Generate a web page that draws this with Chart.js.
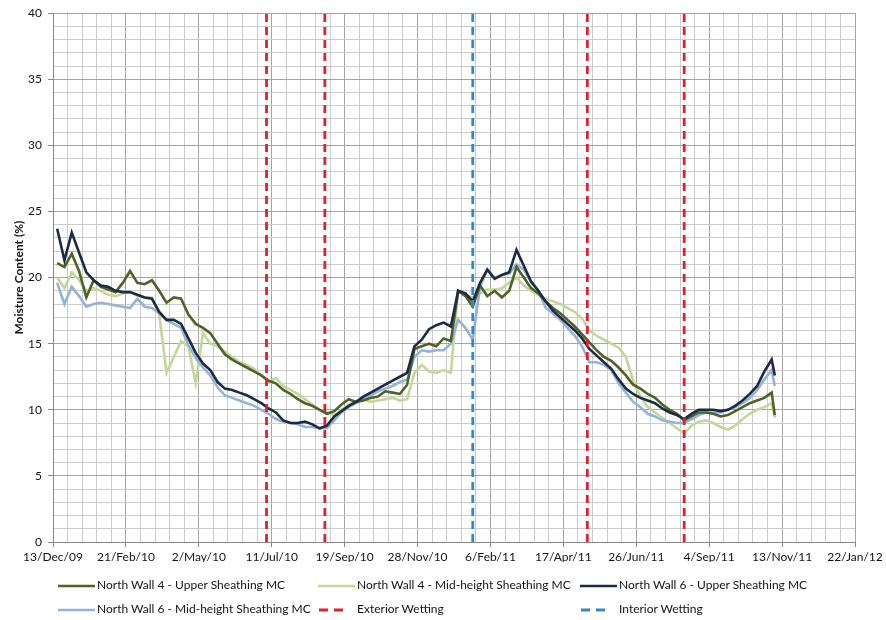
<!DOCTYPE html>
<html><head><meta charset="utf-8">
<script src="https://cdn.jsdelivr.net/npm/chart.js@4.4.0/dist/chart.umd.min.js"></script>
<style>
html,body{margin:0;padding:0;background:#fff;}
#wrap{position:relative;width:886px;height:620px;overflow:hidden;}
#c{position:absolute;left:0;top:0;}
.leg{position:absolute;font:12px Lato, "Liberation Sans", sans-serif;color:#141414;white-space:nowrap;line-height:14px;}
.sw{position:absolute;}
</style>
</head><body>
<div id="wrap">
<canvas id="c" width="886" height="620"></canvas>
<div id="legend"></div>
</div>
<script>
// ---- data ----
const dates = ['2009-12-17','2009-12-24','2009-12-31','2010-01-07','2010-01-14','2010-01-21','2010-01-28','2010-02-04','2010-02-11','2010-02-18',
'2010-02-25','2010-03-04','2010-03-11','2010-03-18','2010-03-25','2010-04-01','2010-04-08','2010-04-15','2010-04-22','2010-04-29',
'2010-05-06','2010-05-13','2010-05-20','2010-05-27','2010-06-03','2010-06-10','2010-06-17','2010-06-24','2010-07-01','2010-07-08',
'2010-07-15','2010-07-22','2010-07-29','2010-08-05','2010-08-12','2010-08-19','2010-08-26','2010-09-02','2010-09-09','2010-09-16',
'2010-09-23','2010-09-30','2010-10-07','2010-10-14','2010-10-21','2010-10-28','2010-11-04','2010-11-11','2010-11-18','2010-11-25',
'2010-12-02','2010-12-09','2010-12-16','2010-12-23','2010-12-30','2011-01-06','2011-01-13','2011-01-20','2011-01-27','2011-02-03',
'2011-02-10','2011-02-17','2011-02-24','2011-03-03','2011-03-10','2011-03-17','2011-03-24','2011-03-31','2011-04-07','2011-04-14',
'2011-04-21','2011-04-28','2011-05-05','2011-05-12','2011-05-19','2011-05-26','2011-06-02','2011-06-09','2011-06-16','2011-06-23',
'2011-06-30','2011-07-07','2011-07-14','2011-07-21','2011-07-28','2011-08-04','2011-08-11','2011-08-18','2011-08-25','2011-09-01',
'2011-09-08','2011-09-15','2011-09-22','2011-09-29','2011-10-06','2011-10-13','2011-10-20','2011-10-27','2011-11-03','2011-11-06'];

const nw4Upper = [21.1,20.8,21.8,20.5,18.5,19.8,19.3,19.1,18.9,19.6,
20.5,19.6,19.5,19.8,19.0,18.1,18.5,18.4,17.2,16.5,
16.2,15.8,15.0,14.2,13.8,13.5,13.2,12.9,12.6,12.2,
12.0,11.5,11.2,10.8,10.5,10.3,10.0,9.7,9.9,10.4,
10.8,10.6,10.7,10.9,11.0,11.4,11.3,11.2,11.9,14.6,
14.8,15.0,14.8,15.4,15.2,19.0,18.6,17.8,19.4,18.6,
19.0,18.5,19.0,20.8,20.0,19.2,18.8,18.2,17.7,17.3,
16.8,16.3,15.7,15.1,14.5,14.0,13.7,13.2,12.6,11.9,
11.6,11.2,10.9,10.4,10.0,9.7,9.2,9.5,9.8,9.8,
9.7,9.5,9.6,9.9,10.2,10.5,10.7,10.9,11.3,9.6];

const nw4Mid = [20.0,19.2,20.4,19.8,19.0,19.2,19.0,18.7,18.6,18.8,
18.9,18.6,18.5,18.5,17.2,12.8,14.0,15.2,14.8,12.0,
15.8,15.0,14.8,14.4,14.0,13.6,13.4,13.1,12.6,12.1,
12.4,11.8,11.5,11.2,10.8,10.4,10.0,9.8,9.6,10.0,
10.4,10.6,10.8,10.6,10.7,10.8,10.9,10.7,10.8,12.8,
13.4,12.9,12.8,13.0,12.8,19.0,18.6,18.5,18.8,19.1,
19.1,19.2,19.6,20.0,19.4,19.0,18.7,18.4,18.2,18.0,
17.7,17.4,16.9,16.0,15.6,15.3,15.0,14.7,14.0,12.2,
11.0,10.2,9.8,9.4,9.0,8.6,8.2,8.8,9.1,9.2,
9.0,8.7,8.5,8.8,9.3,9.7,10.0,10.2,10.5,9.4];

const nw6Upper = [23.7,21.3,23.4,21.9,20.4,19.8,19.4,19.3,19.0,18.9,
18.9,18.7,18.5,18.4,17.4,16.8,16.8,16.5,15.4,14.3,
13.5,13.0,12.1,11.6,11.5,11.3,11.1,10.8,10.5,10.1,
9.8,9.2,9.0,9.0,9.1,8.9,8.6,8.8,9.5,9.9,
10.3,10.6,11.0,11.3,11.6,11.9,12.2,12.5,12.8,14.8,
15.3,16.1,16.4,16.6,16.3,19.0,18.8,18.2,19.6,20.6,
19.9,20.2,20.4,22.1,20.9,19.7,19.0,18.2,17.5,17.0,
16.5,16.0,15.4,14.6,14.1,13.6,13.1,12.3,11.6,11.2,
10.9,10.7,10.5,10.1,9.8,9.6,9.3,9.7,10.0,10.0,
10.0,9.9,10.0,10.3,10.7,11.2,11.8,12.9,13.8,12.6];

const nw6Mid = [19.6,18.0,19.3,18.6,17.8,18.0,18.1,18.0,17.9,17.8,
17.7,18.4,17.8,17.7,17.3,16.8,16.5,16.2,14.9,13.9,
13.2,12.6,11.7,11.1,10.9,10.7,10.5,10.3,10.0,9.7,
9.3,9.1,9.0,8.9,8.7,8.7,8.6,8.6,9.2,9.8,
10.2,10.5,10.8,11.1,11.4,11.6,11.8,12.1,12.3,14.0,
14.5,14.4,14.5,14.5,15.0,16.8,16.2,15.3,19.3,20.6,
20.0,20.2,20.3,21.0,20.6,19.7,19.0,17.7,17.3,16.8,
16.2,15.6,14.8,13.6,13.6,13.4,13.0,12.0,11.3,10.6,
10.2,9.7,9.5,9.2,9.1,9.0,9.0,9.3,9.6,9.8,
9.8,9.8,10.0,10.2,10.5,10.9,11.5,12.3,13.0,11.8];

const exteriorWettingDates = ['2010-07-06','2010-08-31','2011-05-10','2011-08-11'];
const interiorWettingDates = ['2011-01-20'];

const xTickLabels = ['13/Dec/09','21/Feb/10','2/May/10','11/Jul/10','19/Sep/10','28/Nov/10','6/Feb/11','17/Apr/11','26/Jun/11','4/Sep/11','13/Nov/11','22/Jan/12'];
const yTickLabels = ['0','5','10','15','20','25','30','35','40'];

const seriesNames = ['North Wall 4 - Upper Sheathing MC','North Wall 4 - Mid-height Sheathing MC','North Wall 6 - Upper Sheathing MC',
'North Wall 6 - Mid-height Sheathing MC','Exterior Wetting','Interior Wetting'];

// ---- helpers ----
const START = Date.UTC(2009,11,13);
function dayOf(s){const p=s.split('-').map(Number);return (Date.UTC(p[0],p[1]-1,p[2])-START)/86400000;}
function pts(vals){return dates.map((d,i)=>({x:dayOf(d),y:vals[i]}));}
function vlines(ds){const out=[];ds.forEach(d=>{const x=dayOf(d);out.push({x:x,y:0},{x:x,y:40},{x:x,y:null});});return out;}

const colors = {nw4U:'#4f6228', nw4M:'#c4d79b', nw6U:'#1c2a44', nw6M:'#95b3d7', ext:'#e2202c', int:'#2e8bc6'};
const font = {family:'Lato, "Liberation Sans", sans-serif', size:12};

const datasets = [
 {label:seriesNames[4], data:vlines(exteriorWettingDates), borderColor:colors.ext, borderWidth:2.8, borderDash:[8,5], spanGaps:false, order:0},
 {label:seriesNames[5], data:vlines(interiorWettingDates), borderColor:colors.int, borderWidth:2.8, borderDash:[8,5], spanGaps:false, order:1},
 {label:seriesNames[2], data:pts(nw6Upper), borderColor:colors.nw6U, borderWidth:2.6, order:2},
 {label:seriesNames[0], data:pts(nw4Upper), borderColor:colors.nw4U, borderWidth:2.6, order:3},
 {label:seriesNames[3], data:pts(nw6Mid), borderColor:colors.nw6M, borderWidth:2.6, order:4},
 {label:seriesNames[1], data:pts(nw4Mid), borderColor:colors.nw4M, borderWidth:2.6, order:5},
];

new Chart(document.getElementById('c').getContext('2d'), {
 type:'line',
 data:{datasets},
 options:{
  responsive:false, animation:false, devicePixelRatio:1,
  layout:{padding:{left:0,right:31,top:12,bottom:58}},
  plugins:{legend:{display:false}, tooltip:{enabled:false}},
  elements:{point:{radius:0}, line:{tension:0, fill:false}},
  scales:{
   x:{type:'linear', min:0, max:770,
      ticks:{stepSize:14, maxTicksLimit:100, autoSkip:false, maxRotation:0, padding:3, color:'#141414', font,
        callback:(v)=> (v%70===0 ? xTickLabels[v/70] : '')},
      grid:{color:(c)=> (c.tick && c.tick.value%70===0 ? '#a4a4a4' : '#cccccc'), lineWidth:1,
        tickColor:(c)=> (c.tick && c.tick.value%70===0 ? '#888' : 'rgba(0,0,0,0)'), tickLength:5},
      border:{color:'#888'},
      afterFit:(s)=>{s.height=20;}
   },
   y:{min:0, max:40,
      ticks:{stepSize:1, maxTicksLimit:100, autoSkip:false, padding:6, color:'#141414', font,
        callback:(v)=> (v%5===0 ? yTickLabels[v/5] : '')},
      grid:{color:(c)=> (c.tick && c.tick.value%5===0 ? '#a4a4a4' : '#cccccc'), lineWidth:1,
        tickColor:(c)=> (c.tick && c.tick.value%5===0 ? '#888' : 'rgba(0,0,0,0)'), tickLength:5},
      border:{color:'#888'},
      title:{display:true, text:'Moisture Content (%)', color:'#141414', font:{family:font.family, size:12, weight:'bold'}, padding:{top:12,bottom:0}},
      afterFit:(s)=>{s.width=53;}
   }
  }
 }
});

// ---- HTML legend ----
const legendItems = [
 {name:seriesNames[0], color:colors.nw4U, dash:false, col:0, row:0},
 {name:seriesNames[1], color:colors.nw4M, dash:false, col:1, row:0},
 {name:seriesNames[2], color:colors.nw6U, dash:false, col:2, row:0},
 {name:seriesNames[3], color:colors.nw6M, dash:false, col:0, row:1},
 {name:seriesNames[4], color:colors.ext, dash:true, col:1, row:1},
 {name:seriesNames[5], color:colors.int, dash:true, col:2, row:1},
];
const colX = [58, 318, 580];
const rowY = [586, 610];
const lg = document.getElementById('legend');
legendItems.forEach(it=>{
  const sx = colX[it.col], cy = rowY[it.row];
  const svg = document.createElementNS('http://www.w3.org/2000/svg','svg');
  svg.setAttribute('width','38'); svg.setAttribute('height','6');
  svg.setAttribute('class','sw');
  svg.style.left = sx+'px'; svg.style.top = (cy-3)+'px';
  const ln = document.createElementNS('http://www.w3.org/2000/svg','line');
  ln.setAttribute('x1', it.dash? '1':'0'); ln.setAttribute('x2', it.dash? '26':'37');
  ln.setAttribute('y1','3'); ln.setAttribute('y2','3');
  ln.setAttribute('stroke', it.color); ln.setAttribute('stroke-width', it.dash? '2.8':'2.4');
  if(it.dash) ln.setAttribute('stroke-dasharray','9,6');
  svg.appendChild(ln);
  lg.appendChild(svg);
  const t = document.createElement('div');
  t.className='leg'; t.textContent = it.name;
  t.style.left = (sx+39)+'px'; t.style.top = (cy-8)+'px';
  lg.appendChild(t);
});
</script>
</body></html>
